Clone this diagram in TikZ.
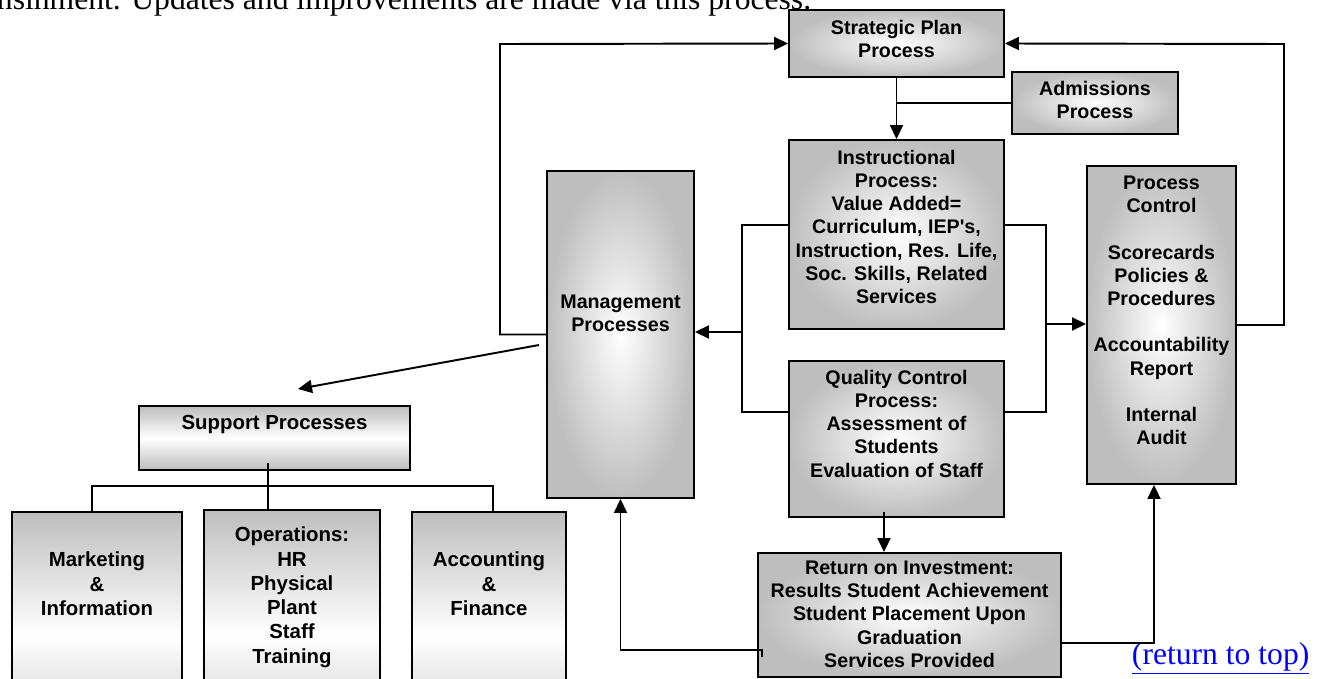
\documentclass[tikz,border=0pt]{standalone}
\usepackage{fontspec}
\setmainfont{Liberation Serif}
\setsansfont{Liberation Sans}
\usetikzlibrary{arrows.meta,calc,fit}
\definecolor{boxgray}{RGB}{190,190,190}
\definecolor{linkblue}{RGB}{0,0,255}

\begin{document}
\begin{tikzpicture}[x=0.02cm,y=-0.02cm,line width=1.1pt,
  >={Triangle[length=2.8mm,width=2.6mm]}]
\tikzset{
  proc/.style={draw, inner sep=0pt, inner color=white, outer color=boxgray},
  supp/.style={draw, inner sep=0pt, top color=boxgray, bottom color=boxgray, middle color=white},
  ptext/.style={anchor=north, inner sep=0pt, align=center,
    font=\sffamily\bfseries\fontsize{11.2}{13.2}\selectfont},
  stext/.style={ptext, font=\sffamily\bfseries\fontsize{11.6}{13.8}\selectfont},
  plain/.style={anchor=base west, inner sep=0pt, font=\fontsize{18}{22}\selectfont}
}
\useasboundingbox (0,0) rectangle (1323,679);
\clip (0,0) rectangle (1323,679);

\node[plain] (intro) at (-4,9.5) {nsihment. Updates and improvements are made via this process.};

% core processes
\node[proc, fit={(789,10) (1004,77)}] (strat) {};
\node[ptext] (strat-t) at ($(strat.north)+(0,10)$) {Strategic Plan\\Process};
\node[proc, fit={(1012,72) (1178,134)}] (adm) {};
\node[ptext] (adm-t) at ($(adm.north)+(0,9)$) {Admissions\\Process};
\node[proc, fit={(789,140) (1004,329)}] (instr) {};
\node[ptext] (instr-t) at ($(instr.north)+(0,10)$) {Instructional\\Process:\\Value Added=\\Curriculum, IEP\textquotesingle s,\\Instruction, Res. Life,\\Soc. Skills, Related\\Services};
\node[proc, fit={(789,361) (1004,517)}] (qc) {};
\node[ptext] (qc-t) at ($(qc.north)+(0,9)$) {Quality Control\\Process:\\Assessment of\\Students\\Evaluation of Staff};
\node[proc, fit={(1087,166) (1236,484)}] (pc) {};
\node[ptext] (pc-t) at ($(pc.north)+(0,10)$) {Process\\Control\\[13.2pt]Scorecards\\Policies \&\\Procedures\\[13.2pt]Accountability\\Report\\[13.2pt]Internal\\Audit};
\node[proc, fit={(547,171) (694,498)}] (mgmt) {};
\node[ptext] (mgmt-t) at ($(mgmt.north)+(0,124)$) {Management\\Processes};
\node[proc, fit={(758,553) (1061,677)}] (ret) {};
\node[ptext] (ret-t) at ($(ret.north)+(0,8)$) {Return on Investment:\\Results Student Achievement\\Student Placement Upon\\Graduation\\Services Provided};

% support processes
\node[supp, fit={(139,406) (410,470)}] (supp) {};
\node[stext] (supp-t) at ($(supp.north)+(0,9)$) {Support Processes};
\node[supp, fit={(12,512) (182,760)}] (mkt) {};
\node[stext] (mkt-t) at ($(mkt.north)+(0,40)$) {Marketing\\\&\\Information};
\node[supp, fit={(204,510) (380,760)}] (ops) {};
\node[stext] (ops-t) at ($(ops.north)+(0,17)$) {Operations:\\HR\\Physical\\Plant\\Staff\\Training};
\node[supp, fit={(412,512) (566,760)}] (acc) {};
\node[stext] (acc-t) at ($(acc.north)+(0,40)$) {Accounting\\\&\\Finance};

\node[plain, text=linkblue] (toplink) at (1131,664) {\underline{(return to top)}};

% junctions
\coordinate (lb) at (742,332);
\coordinate (rb) at (1046,324);
\coordinate (fbl) at (500,44);
\coordinate (fbr) at (1284,44);
\coordinate (supin) at (298,389);
\coordinate (sp1) at (268,463);
\coordinate (qr) at (884,512);
\coordinate (rl) at (762,657);
\coordinate (rr) at (1061,632);

% connectors
\draw[->] (strat.south) -- (instr.north);
\draw (adm.west) -- (adm.west -| strat.south);
\draw (instr.west |- 0,225) -| (lb) |- (qc.west |- 0,412);
\draw[->] (lb) -- (mgmt.east |- lb);
\draw (instr.east |- 0,225) -| (rb) |- (qc.east |- 0,412);
\draw[->] (rb) -- (pc.west |- rb);
\draw[->] (pc.east) -| (fbr) -- (strat.east);
\draw[->] (mgmt.west) -| (fbl) -- (strat.west);
\draw[->] ($(mgmt.west)+(-7,10.5)$) -- (supin);
\draw (sp1) -- (sp1 |- ops.north);
\draw (mkt.north -| 92,0) |- (493,486) -- (acc.north -| 493,0);
\draw[->] (qr) -- (qr |- ret.north);
\draw[->] (rl) -- ++(0,-7) -| (mgmt.south);
\draw[->] (rr) -- ++(0,11) -| (pc.south -| 1154,0);
\end{tikzpicture}
\end{document}
